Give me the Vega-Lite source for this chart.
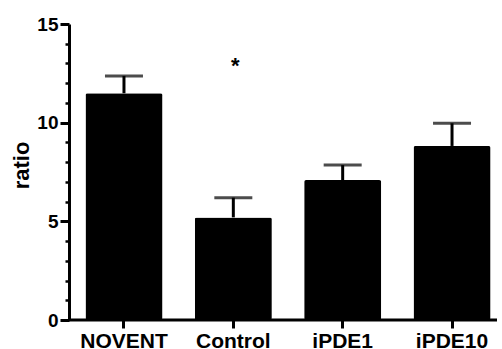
{
  "$schema": "https://vega.github.io/schema/vega-lite/v6.json",
  "autosize": "none",
  "width": 428,
  "height": 296,
  "padding": {"left": 69, "top": 24, "right": 5, "bottom": 29},
  "background": "white",
  "config": {
    "view": {"stroke": null},
    "axis": {
      "labelFont": "Liberation Sans",
      "labelFontWeight": "bold",
      "labelColor": "black",
      "titleFont": "Liberation Sans",
      "titleFontWeight": "bold",
      "titleColor": "black",
      "domainColor": "black",
      "tickColor": "black",
      "grid": false
    }
  },
  "resolve": {"axis": {"y": "independent"}},
  "data": {
    "values": [
      {"group": "NOVENT", "mean": 11.49, "upper": 12.37},
      {"group": "Control", "mean": 5.2, "upper": 6.2},
      {"group": "iPDE1", "mean": 7.09, "upper": 7.85},
      {"group": "iPDE10", "mean": 8.82, "upper": 9.97}
    ]
  },
  "encoding": {
    "x": {
      "field": "group",
      "type": "nominal",
      "sort": null,
      "scale": {"type": "band", "paddingInner": 0.2957, "paddingOuter": 0.05, "range": [11, 427]},
      "axis": {
        "title": null,
        "domain": false,
        "labelAngle": 0,
        "labelFontSize": 21,
        "labelPadding": 2,
        "tickSize": 8,
        "tickWidth": 3
      }
    }
  },
  "layer": [
    {
      "mark": {"type": "bar", "color": "black", "cornerRadius": 2},
      "encoding": {
        "y": {
          "field": "mean",
          "type": "quantitative",
          "scale": {"domain": [0, 15], "nice": false, "zero": true},
          "axis": {
            "orient": "left",
            "title": "ratio",
            "titleFontSize": 22,
            "titlePadding": 3,
            "titleY": 141,
            "values": [0, 5, 10, 15],
            "labelFontSize": 19,
            "labelPadding": 2,
            "labelFlush": false,
            "domainWidth": 3,
            "tickWidth": 3,
            "tickSize": 9
          }
        }
      }
    },
    {
      "mark": {"type": "rule", "color": "black", "strokeWidth": 3},
      "encoding": {
        "y": {
          "field": "mean",
          "type": "quantitative",
          "axis": {
            "orient": "left",
            "title": null,
            "values": [1, 2, 3, 4, 6, 7, 8, 9, 11, 12, 13, 14],
            "labels": false,
            "domain": false,
            "tickWidth": 2.5,
            "tickSize": 4
          }
        },
        "y2": {"field": "upper"}
      }
    },
    {
      "mark": {"type": "tick", "color": "black", "size": 38, "thickness": 3},
      "encoding": {
        "y": {"field": "upper", "type": "quantitative", "axis": null}
      }
    },
    {
      "data": {"values": [{"group": "Control", "pos": 12.5, "label": "*"}]},
      "mark": {"type": "text", "font": "Liberation Sans", "fontSize": 22, "fontWeight": "bold", "color": "black", "baseline": "alphabetic", "dx": 2},
      "encoding": {
        "y": {"field": "pos", "type": "quantitative", "axis": null},
        "text": {"field": "label"}
      }
    },
    {
      "data": {"values": [{"base": 0}]},
      "mark": {"type": "rule", "color": "black", "strokeWidth": 3},
      "encoding": {
        "x": null,
        "y": {"field": "base", "type": "quantitative", "axis": null}
      }
    }
  ]
}
